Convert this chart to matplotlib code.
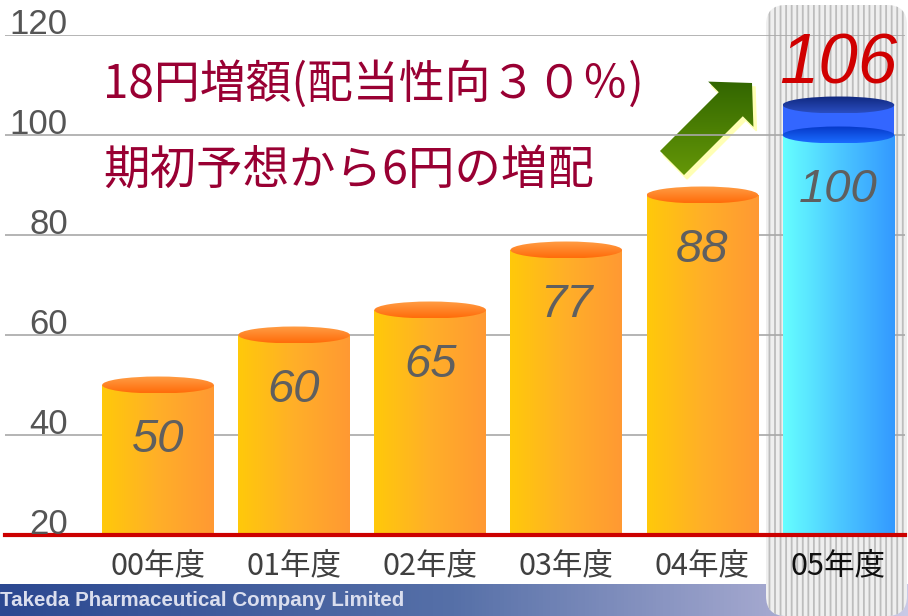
import numpy as np
import matplotlib.pyplot as plt
import matplotlib.patches as mpatches
from matplotlib import font_manager
from matplotlib.colors import LinearSegmentedColormap
from matplotlib.transforms import blended_transform_factory

# data
years = ["00年度", "01年度", "02年度", "03年度", "04年度", "05年度"]
dividends = [50, 60, 65, 77, 88, 100]
final_05 = 106
y_ticks = [20, 40, 60, 80, 100, 120]
title_lines = ["18円増額(配当性向３０％)", "期初予想から6円の増配"]
footer = "Takeda Pharmaceutical Company Limited"

plt.rcParams["font.family"] = ["Noto Sans CJK JP", "DejaVu Sans"]
plt.rcParams["hatch.linewidth"] = 1.3

installed = {f.name for f in font_manager.fontManager.ttflist}
narrow = "Liberation Sans Narrow" if "Liberation Sans Narrow" in installed else "Liberation Sans"

W, H = 908, 616
fig = plt.figure(figsize=(W / 100, H / 100), dpi=100)

# background layer in pixel coordinates (footer, highlight, arrow, titles)
bg = fig.add_axes([0, 0, 1, 1], zorder=0)
bg.set_xlim(0, W)
bg.set_ylim(H, 0)
bg.axis("off")

foot_cmap = LinearSegmentedColormap.from_list(
    "foot", [(0, "#2b4891"), (0.5, "#5670a8"), (0.85, "#a4a8cf"), (1, "#c9c9e6")])
bg.imshow(np.linspace(0, 1, 256).reshape(1, -1), extent=[0, W, H, 584],
          cmap=foot_cmap, aspect="auto", zorder=1)
bg.text(0, 600, footer, color="#dadeee", fontsize=14.8, fontweight="bold",
        va="center", ha="left", family="Liberation Sans")

hl = mpatches.FancyBboxPatch((766, 5), 141, 611, boxstyle="round,pad=0,rounding_size=20",
                             facecolor="#efefef", edgecolor="#bdbdbd", linewidth=0,
                             hatch="|||", zorder=2)
bg.add_patch(hl)

# green arrow with pale shadow
arrow_kw = dict(width=34, head_width=64, head_length=30, length_includes_head=True)
shadow = mpatches.FancyArrow(675, 167, 80, -80, color="#ffffb4", zorder=3, **arrow_kw)
bg.add_patch(shadow)
arrow = mpatches.FancyArrow(672, 163, 80, -80, facecolor="none", edgecolor="none",
                            zorder=4, **arrow_kw)
bg.add_patch(arrow)
arrow_cmap = LinearSegmentedColormap.from_list("arr", ["#2f6300", "#6a9c08"])
im = bg.imshow(np.linspace(0, 1, 128).reshape(-1, 1), extent=[640, 770, 185, 75],
               cmap=arrow_cmap, aspect="auto", zorder=4)
im.set_clip_path(arrow)

bg.text(103, 85, title_lines[0], fontsize=33, color="#990033", va="center", ha="left")
bg.text(103, 170, title_lines[1], fontsize=33.5, color="#990033", va="center", ha="left")

# main chart
ax = fig.add_axes([5 / W, 81 / H, 900 / W, 500 / H], zorder=1)
ax.patch.set_alpha(0)
for s in ax.spines.values():
    s.set_visible(False)

x = np.arange(len(years))
bar_w = 0.82
vals = np.array(dividends)

for v in y_ticks[1:]:
    ax.axhline(v, color="#a8a8a8", lw=1.2, zorder=1)

orange = LinearSegmentedColormap.from_list("org", ["#ffc90a", "#ffaf28", "#ff9933"])
cyan = LinearSegmentedColormap.from_list("cyn", ["#66ffff", "#4cc8ff", "#3399ff"])
orange_top = LinearSegmentedColormap.from_list("otop", ["#ff9d45", "#ff6c0a"])
blue_top = LinearSegmentedColormap.from_list("btop", ["#0638c8", "#1a6cff"])
navy_top = LinearSegmentedColormap.from_list("ntop", ["#10287e", "#2a4dc0"])

hgrad = np.linspace(0, 1, 256).reshape(1, -1)
vgrad = np.linspace(0, 1, 64).reshape(-1, 1)
ell_h = 3.4

bars = ax.bar(x, vals - 20, bottom=20, width=bar_w, color="none", edgecolor="none", zorder=3)
for i, p in enumerate(bars):
    bb = p.get_bbox()
    cmap = cyan if i == len(bars) - 1 else orange
    ax.imshow(hgrad, extent=[bb.x0, bb.x1, bb.y0, bb.y1], cmap=cmap, aspect="auto", zorder=3)

# 05 increase segment
ax.bar(x[-1], final_05 - dividends[-1], bottom=dividends[-1], width=bar_w,
       color="#3366ff", edgecolor="none", zorder=3)


def top_ellipse(cx, cy, cmap, z):
    e = mpatches.Ellipse((cx, cy), bar_w, ell_h, facecolor="none", edgecolor="none", zorder=z)
    ax.add_patch(e)
    img = ax.imshow(vgrad, extent=[cx - bar_w / 2, cx + bar_w / 2, cy - ell_h / 2, cy + ell_h / 2],
                    cmap=cmap, aspect="auto", zorder=z)
    img.set_clip_path(e)


for i, v in enumerate(dividends):
    top_ellipse(x[i], v, blue_top if i == len(dividends) - 1 else orange_top, 4)
top_ellipse(x[-1], final_05, navy_top, 4)

for i, v in enumerate(dividends):
    ax.text(x[i], v - 11, str(v), ha="center", va="center", style="italic",
            fontsize=34, color="#5f5f5f", family="Liberation Sans", zorder=6)
ax.text(x[-1], final_05 + 8, str(final_05), ha="center", va="center", style="italic",
        fontsize=51, color="#d00000", family=narrow, zorder=6, clip_on=False)

ax.axhline(20, color="#cc0000", lw=3, zorder=6, clip_on=False)

trans = blended_transform_factory(ax.transAxes, ax.transData)
for v in y_ticks:
    ax.text(63 / 900, v + 0.3, str(v), transform=trans, ha="right", va="baseline",
            fontsize=25, color="#555555", family="Liberation Sans", zorder=6)

ax.set_xticks(x, years)
ax.set_yticks([])
ax.tick_params(axis="x", length=0, pad=11, labelsize=22, labelcolor="#404040")
ax.get_xticklabels()[-1].set_color("#111111")

ax.set_xlim(-1.124, 5.489)
ax.set_ylim(20, 120)

fig.savefig("out.png", dpi=100)
